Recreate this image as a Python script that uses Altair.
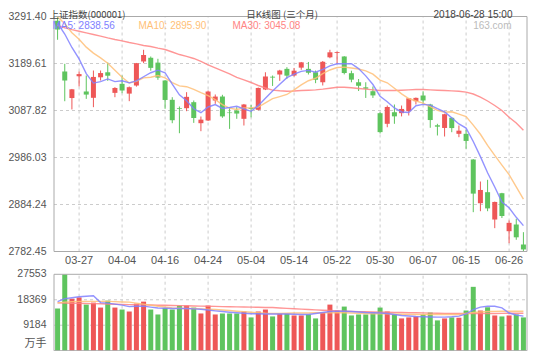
import altair as alt
import pandas as pd

dates = ["03-22","03-23","03-26","03-27","03-28","03-29","03-30","04-02","04-03","04-04",
         "04-09","04-10","04-11","04-12","04-13","04-16","04-17","04-18","04-19","04-20",
         "04-23","04-24","04-25","04-26","04-27","05-02","05-03","05-04","05-07","05-08",
         "05-09","05-10","05-11","05-14","05-15","05-16","05-17","05-18","05-21","05-22",
         "05-23","05-24","05-25","05-28","05-29","05-30","05-31","06-01","06-04","06-05",
         "06-06","06-07","06-08","06-11","06-12","06-13","06-14","06-15","06-19","06-20",
         "06-21","06-22","06-25","06-26","06-27","06-28"]
opens = [3282.0,3172.3,3114.8,3162.0,3129.0,3115.3,3159.7,3170.6,3126.0,3145.6,
         3124.4,3141.9,3194.0,3202.0,3191.5,3152.8,3111.0,3093.0,3092.8,3105.8,
         3060.3,3066.2,3109.5,3118.1,3083.5,3087.8,3069.8,3093.0,3089.3,3133.3,
         3161.0,3165.8,3178.0,3163.6,3180.6,3178.0,3170.6,3149.0,3203.0,3212.5,
         3204.8,3168.6,3149.0,3138.0,3129.6,3082.0,3059.0,3084.1,3082.0,3086.3,
         3108.0,3120.3,3100.8,3055.8,3050.0,3072.0,3037.3,3037.3,2981.7,2887.0,
         2910.9,2851.7,2908.7,2826.4,2840.9,2797.6]
highs = [3291.40,3188.9,3134.5,3172.3,3163.6,3174.4,3174.4,3191.8,3138.3,3163.6,
         3139.8,3190.8,3219.3,3204.8,3199.8,3153.5,3116.6,3096.5,3127.5,3109.5,
         3074.8,3131.1,3122.5,3121.8,3095.0,3095.0,3102.0,3100.0,3137.5,3170.6,
         3163.6,3176.0,3181.6,3180.0,3192.9,3192.9,3174.4,3195.0,3219.3,3215.5,
         3205.5,3174.0,3156.0,3149.0,3139.8,3084.0,3098.6,3100.8,3098.6,3114.8,
         3116.0,3129.6,3102.3,3059.0,3081.0,3073.0,3055.3,3046.0,2982.5,2934.0,
         2937.7,2890.5,2909.5,2849.6,2853.3,2824.3]
lows = [3241.0,3107.9,3090.1,3140.0,3113.0,3095.0,3152.8,3152.0,3116.6,3125.3,
        3108.0,3139.5,3190.3,3174.0,3154.3,3091.5,3060.3,3038.6,3086.3,3061.0,
        3043.0,3065.0,3102.3,3072.0,3048.0,3069.8,3055.3,3073.0,3088.0,3132.0,
        3141.0,3152.0,3156.4,3161.4,3176.0,3165.8,3147.0,3142.0,3201.0,3189.0,
        3166.0,3149.0,3130.0,3115.0,3115.0,3038.0,3051.6,3059.0,3075.0,3077.0,
        3100.8,3102.3,3050.4,3033.7,3031.5,3040.8,3030.0,3004.9,2867.6,2869.7,
        2869.7,2833.0,2855.0,2800.4,2807.8,2782.45]
closes = [3263.48,3152.76,3133.72,3166.65,3122.29,3160.53,3168.90,3163.18,3136.63,3131.11,
          3138.29,3190.32,3208.08,3180.16,3159.05,3110.65,3066.80,3091.40,3117.38,3071.54,
          3068.01,3128.93,3117.97,3075.03,3082.23,3081.18,3100.86,3091.03,3136.65,3161.50,
          3159.15,3174.41,3163.26,3174.03,3192.12,3169.57,3154.28,3193.30,3213.84,3214.35,
          3168.96,3154.65,3141.30,3135.08,3120.46,3041.00,3095.47,3075.14,3091.19,3114.21,
          3115.18,3109.50,3067.15,3052.78,3079.80,3049.80,3044.16,3021.90,2907.82,2915.73,
          2875.81,2889.76,2859.34,2844.51,2813.18,2786.90]
volumes = [15200,27553,18761,19224,16625,17337,15557,18049,15557,14845,
           14133,16981,17693,14845,13065,15450,14845,16269,16269,15557,
           13421,16269,13065,13421,13421,13421,14133,12000,14133,14845,
           12353,13314,13314,12709,12709,13065,11641,13777,16625,14489,
           15913,12709,13065,13065,13777,15557,14133,13065,11641,12000,
           12353,13065,13777,10929,11641,12000,11890,14489,23033,14489,
           15664,12709,12353,12709,13065,12000]
ma5 = [3276.84,3253.42,3224.31,3199.51,3167.78,3147.19,3150.42,3156.31,3150.31,3152.07,
       3147.62,3151.91,3160.89,3169.59,3175.18,3169.65,3144.95,3121.61,3109.06,3091.55,
       3083.03,3095.45,3100.77,3092.30,3094.43,3097.07,3091.45,3086.07,3098.39,3114.24,
       3129.84,3144.55,3158.99,3166.47,3172.59,3174.68,3170.65,3176.66,3184.62,3189.07,
       3188.95,3189.02,3178.62,3162.87,3144.09,3118.50,3106.66,3093.43,3084.65,3083.40,
       3098.24,3101.04,3099.45,3091.76,3084.88,3071.81,3058.74,3049.69,3020.70,2987.88,
       2953.08,2922.20,2889.69,2877.03,2856.52,2838.56]
ma10 = [3291.08,3275.64,3256.34,3241.98,3225.07,3212.02,3201.92,3190.31,3174.91,3159.93,
        3147.41,3151.16,3158.60,3159.95,3163.63,3158.64,3148.43,3141.25,3139.32,3133.37,
        3126.34,3120.20,3111.19,3100.68,3092.99,3090.05,3093.45,3093.42,3095.34,3104.34,
        3113.45,3118.00,3122.53,3132.43,3143.42,3152.26,3157.60,3167.83,3175.55,3180.83,
        3181.81,3179.84,3177.64,3173.75,3166.58,3153.72,3147.84,3136.03,3123.76,3113.75,
        3108.37,3103.85,3096.44,3088.21,3084.14,3085.02,3079.89,3074.57,3056.23,3036.38,
        3012.45,2990.47,2969.69,2948.86,2922.20,2895.90]
ma30 = [3272.0,3267.0,3263.0,3259.5,3256.0,3252.5,3249.0,3245.0,3241.5,3238.5,
        3235.0,3232.0,3228.5,3226.5,3223.0,3220.0,3214.5,3209.0,3205.0,3200.5,
        3194.0,3186.5,3180.0,3173.5,3167.0,3159.5,3154.0,3148.5,3142.0,3136.5,
        3132.0,3130.5,3129.6,3130.0,3131.0,3131.8,3132.5,3134.0,3136.0,3138.3,
        3138.3,3137.0,3135.5,3134.0,3132.5,3131.0,3131.0,3131.0,3131.8,3132.5,
        3133.3,3133.3,3132.5,3131.8,3131.0,3130.3,3129.5,3127.5,3123.5,3116.6,
        3108.4,3098.6,3087.8,3073.3,3060.7,3045.08]
vol_ma5 = [17693,18761,19117,19473,19651,19829,17337,17159,16803,16447,
           15913,16020,16091,15735,15379,15308,15201,15201,15201,15094,
           14952,14667,14382,14133,13884,13670,13492,13314,13314,13243,
           13243,13243,13243,13136,13065,13065,13421,13777,14133,14240,
           14240,14133,13955,13777,13670,13599,13421,13065,12709,12531,
           12353,12246,12175,12104,12104,12246,12460,13243,14845,15735,
           16020,16020,15450,13599,12887,12460]
vol_ma10 = [17230,17515,17693,17800,17800,17800,17800,17800,17693,17586,
            17515,17159,16803,16447,16020,15735,15450,15308,15201,15201,
            15094,14952,14845,14667,14489,14240,14026,13848,13670,13492,
            13421,13421,13492,13599,13599,13599,13670,13670,13670,13670,
            13670,13599,13528,13421,13314,13314,13314,13243,13172,13065,
            13065,13065,13065,13065,13065,13065,13065,13421,13777,13955,
            14133,14200,14240,14240,14240,14240]
vol_ma30 = [17230,17195,17124,17088,17017,16981,16910,16839,16768,16696,
            16625,16590,16518,16483,16412,16376,16305,16269,16198,16127,
            16091,16020,15984,15913,15842,15806,15735,15700,15664,15593,
            15557,15415,15272,15130,14988,14845,14738,14596,14489,14347,
            14240,14169,14098,14026,13955,13884,13848,13813,13777,13706,
            13670,13635,13564,13528,13457,13421,13421,13421,13421,13421,
            13421,13421,13457,13492,13492,13528]

price_ticks = [3291.40, 3189.61, 3087.82, 2986.03, 2884.24, 2782.45]
price_tick_labels = ["3291.40", "3189.61", "3087.82", "2986.03", "2884.24", "2782.45"]
vol_ticks = [27553, 18369, 9184]
vol_tick_labels = ["27553", "18369", "9184"]
vol_unit = "万手"
label_dates = ["03-27", "04-04", "04-16", "04-24", "05-04", "05-14",
               "05-22", "05-30", "06-07", "06-15", "06-26"]

title_left = "上证指数(000001)"
title_mid = "日K线图 (三个月)"
title_right = "2018-06-28 15:00"
watermark = "163.com"

RED = "#ee5757"
GREEN = "#5ec45e"
BLUE = "#8080ff"
ORANGE = "#ffbf78"
PINK = "#ff8484"
GRID = "#cccccc"
BORDER = "#aaaaaa"
TXT = "#555555"
CJK = "Noto Sans CJK SC"
LAT = "Liberation Sans"

n = len(dates)
W, H = 483, 335

df = pd.DataFrame({
    "i": list(range(n)), "date": dates, "open": opens, "high": highs,
    "low": lows, "close": closes, "vol": volumes, "zero": [0] * n,
    "ma5": ma5, "ma10": ma10, "ma30": ma30,
    "vma5": vol_ma5, "vma10": vol_ma10, "vma30": vol_ma30,
})
df["dir"] = ["up" if c >= o else "down" for o, c in zip(opens, closes)]

xs = alt.Scale(domain=[-0.5, n - 0.5], range=[0, W], nice=False, zero=False)
ps = alt.Scale(domain=[price_ticks[-1], price_ticks[0]], range=[235.5, 0.5], nice=False, zero=False)
vs = alt.Scale(domain=[0, vol_ticks[0]], range=[334.7, 258.3], nice=False, zero=False)
col = alt.Color("dir:N", scale=alt.Scale(domain=["up", "down"], range=[RED, GREEN]), legend=None)

X = alt.X("i:Q", scale=xs, axis=None)
base = alt.Chart(df)

grid_idx = [dates.index(d) for d in label_dates]
vgrid = pd.DataFrame({"i": grid_idx, "plo": price_ticks[-1], "phi": price_ticks[0],
                      "vlo": 0, "vhi": vol_ticks[0]})
hp = pd.DataFrame({"v": price_ticks[1:-1], "x0": -0.5, "x1": n - 0.5})
hv = pd.DataFrame({"v": vol_ticks[1:], "x0": -0.5, "x1": n - 0.5})

layers = []
layers.append(alt.Chart(hp).mark_rule(color=GRID, strokeDash=[3, 3]).encode(
    x=alt.X("x0:Q", scale=xs, axis=None), x2="x1:Q", y=alt.Y("v:Q", scale=ps, axis=None)))
layers.append(alt.Chart(hv).mark_rule(color=GRID, strokeDash=[3, 3]).encode(
    x=alt.X("x0:Q", scale=xs, axis=None), x2="x1:Q", y=alt.Y("v:Q", scale=vs, axis=None)))
layers.append(alt.Chart(vgrid).mark_rule(color=GRID, strokeDash=[3, 3]).encode(
    x=X, y=alt.Y("plo:Q", scale=ps, axis=None), y2="phi:Q"))
layers.append(alt.Chart(vgrid).mark_rule(color=GRID, strokeDash=[3, 3]).encode(
    x=X, y=alt.Y("vlo:Q", scale=vs, axis=None), y2="vhi:Q"))

# candles
layers.append(base.mark_rule(strokeWidth=1).encode(
    x=X, y=alt.Y("low:Q", scale=ps, axis=None), y2="high:Q", color=col))
layers.append(base.mark_bar(size=5).encode(
    x=X, y=alt.Y("open:Q", scale=ps, axis=None), y2="close:Q", color=col))
# volume
layers.append(base.mark_bar(size=5).encode(
    x=X, y=alt.Y("vol:Q", scale=vs, axis=None), y2="zero:Q", color=col))

for field, c in [("ma30", PINK), ("ma10", ORANGE), ("ma5", BLUE)]:
    layers.append(base.mark_line(color=c, strokeWidth=1.4, opacity=0.85).encode(
        x=X, y=alt.Y(f"{field}:Q", scale=ps, axis=None)))
for field, c in [("vma30", PINK), ("vma10", ORANGE), ("vma5", BLUE)]:
    layers.append(base.mark_line(color=c, strokeWidth=1.4, opacity=0.85).encode(
        x=X, y=alt.Y(f"{field}:Q", scale=vs, axis=None)))

# borders
pbox = pd.DataFrame({"x0": [-0.5], "x1": [n - 0.5], "y0": [price_ticks[-1]], "y1": [price_ticks[0]]})
vbox = pd.DataFrame({"x0": [-0.5], "x1": [n - 0.5], "y0": [0], "y1": [vol_ticks[0]]})
layers.append(alt.Chart(pbox).mark_rect(fillOpacity=0, stroke=BORDER, strokeWidth=1).encode(
    x=alt.X("x0:Q", scale=xs, axis=None), x2="x1:Q", y=alt.Y("y0:Q", scale=ps, axis=None), y2="y1:Q"))
layers.append(alt.Chart(vbox).mark_rect(fillOpacity=0, stroke=BORDER, strokeWidth=1).encode(
    x=alt.X("x0:Q", scale=xs, axis=None), x2="x1:Q", y=alt.Y("y0:Q", scale=vs, axis=None), y2="y1:Q"))

# y labels
pl = pd.DataFrame({"v": price_ticks, "t": price_tick_labels})
vl = pd.DataFrame({"v": vol_ticks, "t": vol_tick_labels})
layers.append(alt.Chart(pl).mark_text(align="right", baseline="middle", fontSize=10.5, font=LAT, color=TXT).encode(
    x=alt.value(-2.5), y=alt.Y("v:Q", scale=ps, axis=None), text="t:N"))
layers.append(alt.Chart(vl).mark_text(align="right", baseline="middle", fontSize=10.5, font=LAT, color=TXT).encode(
    x=alt.value(-2.5), y=alt.Y("v:Q", scale=vs, axis=None), text="t:N"))
layers.append(alt.Chart(pd.DataFrame({"v": [0], "t": [vol_unit]})).mark_text(
    align="right", baseline="bottom", fontSize=11, font=CJK, color=TXT, dy=-2).encode(
    x=alt.value(-2.5), y=alt.Y("v:Q", scale=vs, axis=None), text="t:N"))

# x labels
xl = pd.DataFrame({"i": grid_idx, "t": label_dates})
layers.append(alt.Chart(xl).mark_text(baseline="middle", fontSize=11, font=LAT, color=TXT).encode(
    x=X, y=alt.value(244.5), text="t:N"))

# header
layers.append(alt.Chart(pd.DataFrame({"t": [title_left]})).mark_text(
    align="left", baseline="middle", fontSize=9.5, font=CJK, color="#444444").encode(
    x=alt.value(0.5), y=alt.value(-1.5), text="t:N"))
layers.append(alt.Chart(pd.DataFrame({"t": [title_mid]})).mark_text(
    align="center", baseline="middle", fontSize=9.5, font=CJK, color="#444444").encode(
    x=alt.value(233), y=alt.value(-1.5), text="t:N"))
layers.append(alt.Chart(pd.DataFrame({"t": [title_right]})).mark_text(
    align="right", baseline="middle", fontSize=10, font=LAT, color="#444444").encode(
    x=alt.value(463.5), y=alt.value(-1.5), text="t:N"))

# MA legend
for t, c, xpos in [(f"MA5: {ma5[-1]:.2f}", BLUE, 3.5), (f"MA10: {ma10[-1]:.2f}", ORANGE, 89.5),
                   (f"MA30: {ma30[-1]:.2f}", PINK, 183.5)]:
    layers.append(alt.Chart(pd.DataFrame({"t": [t]})).mark_text(
        align="left", baseline="middle", fontSize=10, font=LAT, color=c).encode(
        x=alt.value(xpos), y=alt.value(10), text="t:N"))
layers.append(alt.Chart(pd.DataFrame({"t": [watermark]})).mark_text(
    align="right", baseline="middle", fontSize=10, font=LAT, color="#bbbbbb").encode(
    x=alt.value(462.5), y=alt.value(10), text="t:N"))

chart = alt.layer(*layers).resolve_scale(y="independent").properties(
    width=W, height=H,
    autosize=alt.AutoSizeParams(type="none"),
    padding={"left": 41, "top": 8, "right": 0, "bottom": 0},
).configure_view(stroke=None)

chart.save("out.html", embed_options={"renderer": "svg", "actions": False})
